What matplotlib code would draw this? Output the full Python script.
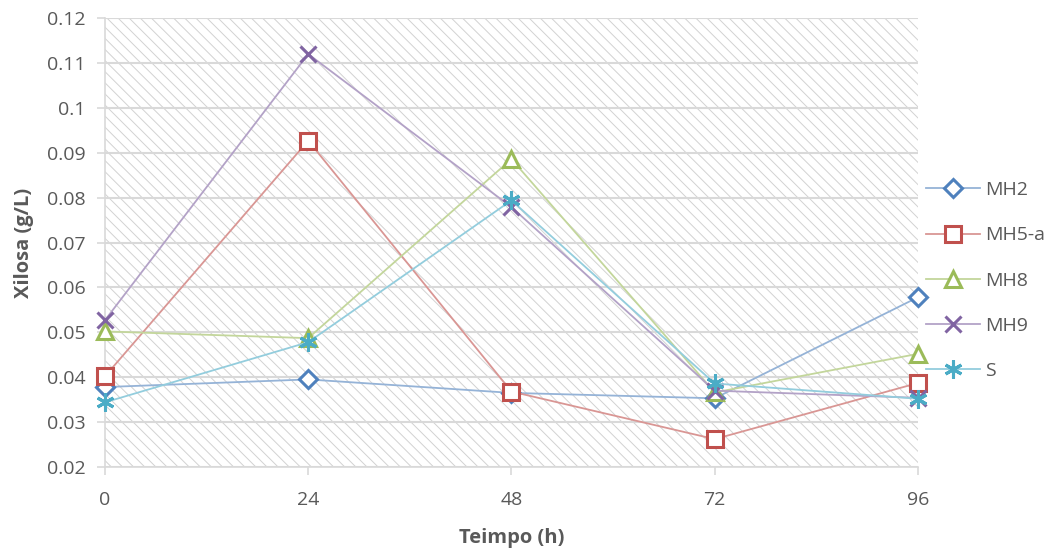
#!/usr/bin/env python

"""Xilosa vs tiempo, con fondo rayado como en Excel."""

import matplotlib.pyplot as plt
from matplotlib.patches import Rectangle

plt.rcParams['font.family'] = ['Open Sans', 'DejaVu Sans']
plt.rcParams['hatch.linewidth'] = 0.7

tiempo = [0, 24, 48, 72, 96]
mh2 = [0.0378, 0.0395, 0.0365, 0.0353, 0.0578]
mh5a = [0.0402, 0.0927, 0.0368, 0.0262, 0.0387]
mh8 = [0.0502, 0.0487, 0.0886, 0.0366, 0.0452]
mh9 = [0.0527, 0.1120, 0.0779, 0.0370, 0.0354]
s = [0.0344, 0.0478, 0.0794, 0.0386, 0.0352]

series = [
    ("MH2", mh2, "D", "#4F81BD", "#95B3D7", 9),
    ("MH5-a", mh5a, "s", "#C0504D", "#D99694", 11),
    ("MH8", mh8, "^", "#9BBB59", "#C3D69B", 12),
    ("MH9", mh9, "x", "#8064A2", "#B3A2C7", 11),
    ("S", s, (6, 2, 0), "#4BACC6", "#93CDDD", 13),
]

fig = plt.figure(figsize=(10.53, 5.5), dpi=100)
ax = fig.add_axes([0.0997, 0.151, 0.772, 0.816])

# fondo rayado
ax.add_patch(Rectangle((0, 0), 1, 1, transform=ax.transAxes, facecolor="white",
                       edgecolor="#D2D2D2", hatch="\\\\\\", linewidth=0, zorder=0))

for name, vals, mk, col, light, ms in series:
    ax.plot(tiempo, vals, color=light, lw=1.3, marker=mk, markersize=ms,
            markerfacecolor="white", markeredgecolor=col, markeredgewidth=2.2,
            label=name, zorder=3, clip_on=False)

ax.set_xlim(0, 96)
ax.set_ylim(0.02, 0.12)
ax.set_xticks(tiempo)
ax.set_yticks([0.02, 0.03, 0.04, 0.05, 0.06, 0.07, 0.08, 0.09, 0.1, 0.11, 0.12])
ax.set_yticklabels(["0.02", "0.03", "0.04", "0.05", "0.06", "0.07", "0.08",
                    "0.09", "0.1", "0.11", "0.12"])
ax.yaxis.grid(True, color="#D9D9D9", lw=1.5, zorder=1)
ax.set_axisbelow(True)
for sp in ["top", "right"]:
    ax.spines[sp].set_visible(False)
for sp in ["left", "bottom"]:
    ax.spines[sp].set_color("#D9D9D9")
    ax.spines[sp].set_linewidth(1.2)
ax.tick_params(axis="both", colors="#D9D9D9", labelcolor="#595959",
               labelsize=14, length=6, width=1.2)
ax.tick_params(axis="x", pad=11)
ax.tick_params(axis="y", pad=8)

ax.set_xlabel("Teimpo (h)", fontsize=14.5, fontweight="bold", color="#595959", labelpad=14)
ax.set_ylabel("Xilosa (g/L)", fontsize=14.5, fontweight="bold", color="#595959", labelpad=9)

leg = ax.legend(loc="center left", bbox_to_anchor=(1.0, 0.415), frameon=False,
                fontsize=14, labelcolor="#595959", handlelength=2.8,
                handletextpad=0.25, labelspacing=1.4, borderaxespad=0.0)

plt.savefig("out.png", dpi=100)
